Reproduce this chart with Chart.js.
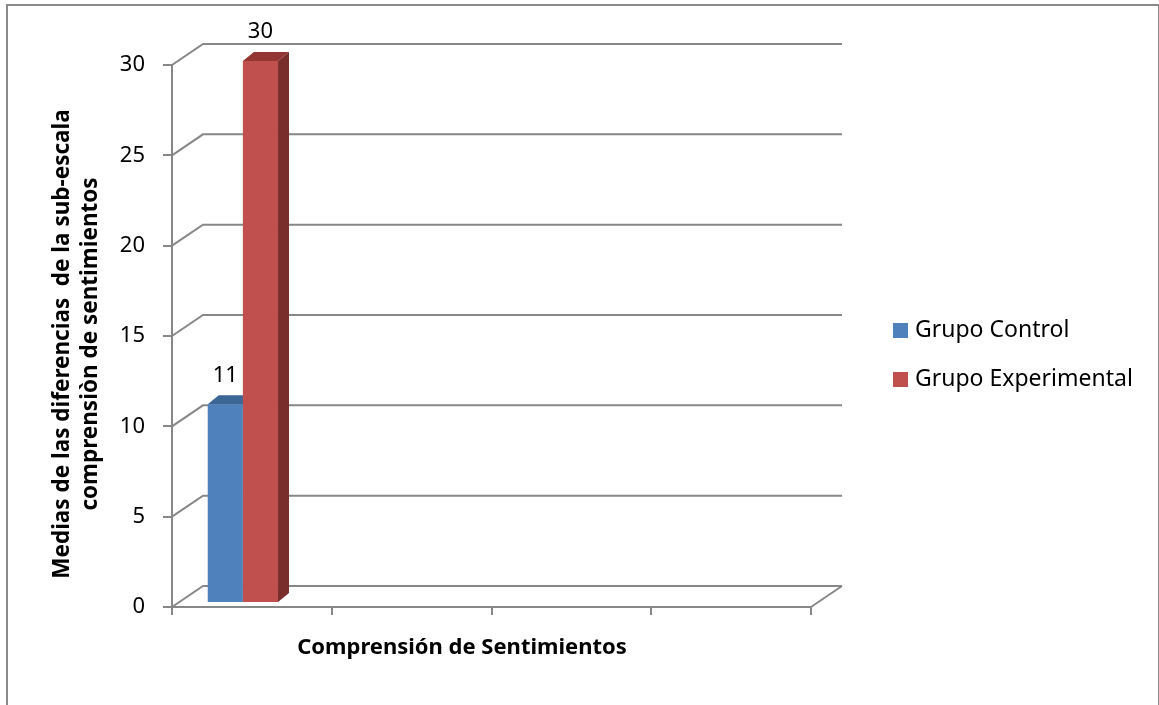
<!DOCTYPE html>
<html>
<head>
<meta charset="utf-8">
<script src="https://cdn.jsdelivr.net/npm/chart.js@4.4.1/dist/chart.umd.min.js"></script>
<style>
    body { margin: 0; background: #fff; }
    #wrap { position: relative; width: 1159px; height: 705px; }
    #frame {
        position: absolute; left: 6px; top: 4px; width: 1150px; height: 710px;
        border: 2px solid #8a8a8a; border-bottom: none; pointer-events: none;
    }
</style>
</head>
<body>
<div id="wrap">
    <canvas id="sentimientosChart"></canvas>
    <div id="frame"></div>
</div>
<script>
// Chart data
const categories = ['', '', '', ''];
const seriesNames = ['Grupo Control', 'Grupo Experimental'];
const controlValues = [11, null, null, null];
const experimentalValues = [30, null, null, null];
const yTicks = [0, 5, 10, 15, 20, 25, 30];

const yTitleLines = ['Medias de las diferencias  de la sub-escala', 'comprensiòn de sentimientos'];
const xTitle = 'Comprensión de Sentimientos';

const FONT = '"Noto Sans", "DejaVu Sans", sans-serif';
const GRID = '#878787';
const DEPTH = { dx: 31, dy: -21 };      // back wall offset
const BAR_DEPTH = { dx: 11, dy: -9 };   // bar side/top offset
const BAR_SHIFT = { dx: -9, dy: -4 };   // where the bars sit inside the depth
const faceColors = [
    { front: '#4F81BD', top: '#3C6696', side: '#385D8A' },
    { front: '#C0504D', top: '#943634', side: '#7A2E2C' }
];

// Back wall, floor, diagonals and the 3D faces of the bars
const wallPlugin = {
    id: 'wall3d',
    beforeDatasetsDraw(chart) {
        const ctx = chart.ctx;
        const y = chart.scales.y;
        const area = chart.chartArea;
        ctx.save();
        ctx.strokeStyle = GRID;
        ctx.lineWidth = 2;
        yTicks.forEach(function(v) {
            const py = y.getPixelForValue(v);
            ctx.beginPath();
            ctx.moveTo(area.left, py);
            ctx.lineTo(area.left + DEPTH.dx, py + DEPTH.dy);
            ctx.lineTo(area.right + DEPTH.dx, py + DEPTH.dy);
            ctx.stroke();
        });
        // right end of the floor
        ctx.beginPath();
        ctx.moveTo(area.right, area.bottom);
        ctx.lineTo(area.right + DEPTH.dx, area.bottom + DEPTH.dy);
        ctx.stroke();
        ctx.restore();

        // shifted until afterDatasetsDraw so the front faces line up
        ctx.save();
        ctx.translate(BAR_SHIFT.dx, BAR_SHIFT.dy);
        chart.data.datasets.forEach(function(ds, di) {
            const meta = chart.getDatasetMeta(di);
            meta.data.forEach(function(bar, i) {
                if (ds.data[i] === null) return;
                const l = bar.x - bar.width / 2, r = bar.x + bar.width / 2;
                const t = bar.y, b = bar.base;
                ctx.fillStyle = faceColors[di].side;
                ctx.beginPath();
                ctx.moveTo(r, t);
                ctx.lineTo(r + BAR_DEPTH.dx, t + BAR_DEPTH.dy);
                ctx.lineTo(r + BAR_DEPTH.dx, b + BAR_DEPTH.dy);
                ctx.lineTo(r, b);
                ctx.closePath();
                ctx.fill();
                ctx.fillStyle = faceColors[di].top;
                ctx.beginPath();
                ctx.moveTo(l, t);
                ctx.lineTo(l + BAR_DEPTH.dx, t + BAR_DEPTH.dy);
                ctx.lineTo(r + BAR_DEPTH.dx, t + BAR_DEPTH.dy);
                ctx.lineTo(r, t);
                ctx.closePath();
                ctx.fill();
            });
        });
    },
    afterDatasetsDraw(chart) {
        chart.ctx.restore();
    }
};

// Value labels, axis titles and legend
const textPlugin = {
    id: 'texts',
    afterDraw(chart) {
        const ctx = chart.ctx;
        ctx.save();
        ctx.fillStyle = '#000';
        ctx.textAlign = 'center';
        ctx.textBaseline = 'middle';

        ctx.font = '22px ' + FONT;
        chart.data.datasets.forEach(function(ds, di) {
            chart.getDatasetMeta(di).data.forEach(function(bar, i) {
                if (ds.data[i] === null) return;
                ctx.fillText(String(ds.data[i]), bar.x + BAR_SHIFT.dx, bar.y + BAR_SHIFT.dy - 29);
            });
        });

        ctx.font = 'bold 22px ' + FONT;
        ctx.fillText(xTitle, 462, 648);

        ctx.save();
        ctx.translate(63, 344);
        ctx.rotate(-Math.PI / 2);
        ctx.font = 'bold 22.5px ' + FONT;
        ctx.fillText(yTitleLines[0], 0, 0);
        ctx.fillText(yTitleLines[1], 0, 28);
        ctx.restore();

        ctx.textAlign = 'left';
        ctx.font = '23px ' + FONT;
        chart.data.datasets.forEach(function(ds, di) {
            const cy = 330 + di * 49;
            ctx.fillStyle = ds.backgroundColor;
            ctx.fillRect(893, cy - 7, 15, 15);
            ctx.fillStyle = '#000';
            ctx.fillText(ds.label, 915, cy);
        });
        ctx.restore();
    }
};

document.addEventListener('DOMContentLoaded', function() {
    const ctx = document.getElementById('sentimientosChart');
    if (!ctx) return;

    new Chart(ctx, {
        type: 'bar',
        data: {
            labels: categories,
            datasets: [{
                label: seriesNames[0],
                data: controlValues,
                backgroundColor: faceColors[0].front,
                borderWidth: 0
            }, {
                label: seriesNames[1],
                data: experimentalValues,
                backgroundColor: faceColors[1].front,
                borderWidth: 0
            }]
        },
        options: {
            responsive: true,
            maintainAspectRatio: false,
            animation: false,
            categoryPercentage: 0.44,
            barPercentage: 1.0,
            layout: {
                padding: { top: 65, right: 348, bottom: 0, left: 0 }
            },
            plugins: {
                legend: { display: false },
                tooltip: { enabled: false }
            },
            scales: {
                x: {
                    grid: {
                        drawOnChartArea: false,
                        color: GRID,
                        lineWidth: 2,
                        tickLength: 8
                    },
                    border: { color: GRID, width: 2 },
                    ticks: { display: false },
                    afterFit: function(scale) { scale.height = 98; }
                },
                y: {
                    min: 0,
                    max: 30,
                    afterBuildTicks: function(scale) {
                        scale.ticks = yTicks.map(function(v) { return { value: v }; });
                    },
                    grid: {
                        drawOnChartArea: false,
                        color: GRID,
                        lineWidth: 2,
                        tickLength: 9
                    },
                    border: { color: GRID, width: 2 },
                    ticks: {
                        padding: 18,
                        color: '#000',
                        font: { family: FONT, size: 22 }
                    },
                    afterFit: function(scale) { scale.width = 172; }
                }
            }
        },
        plugins: [wallPlugin, textPlugin]
    });
});
</script>
</body>
</html>
